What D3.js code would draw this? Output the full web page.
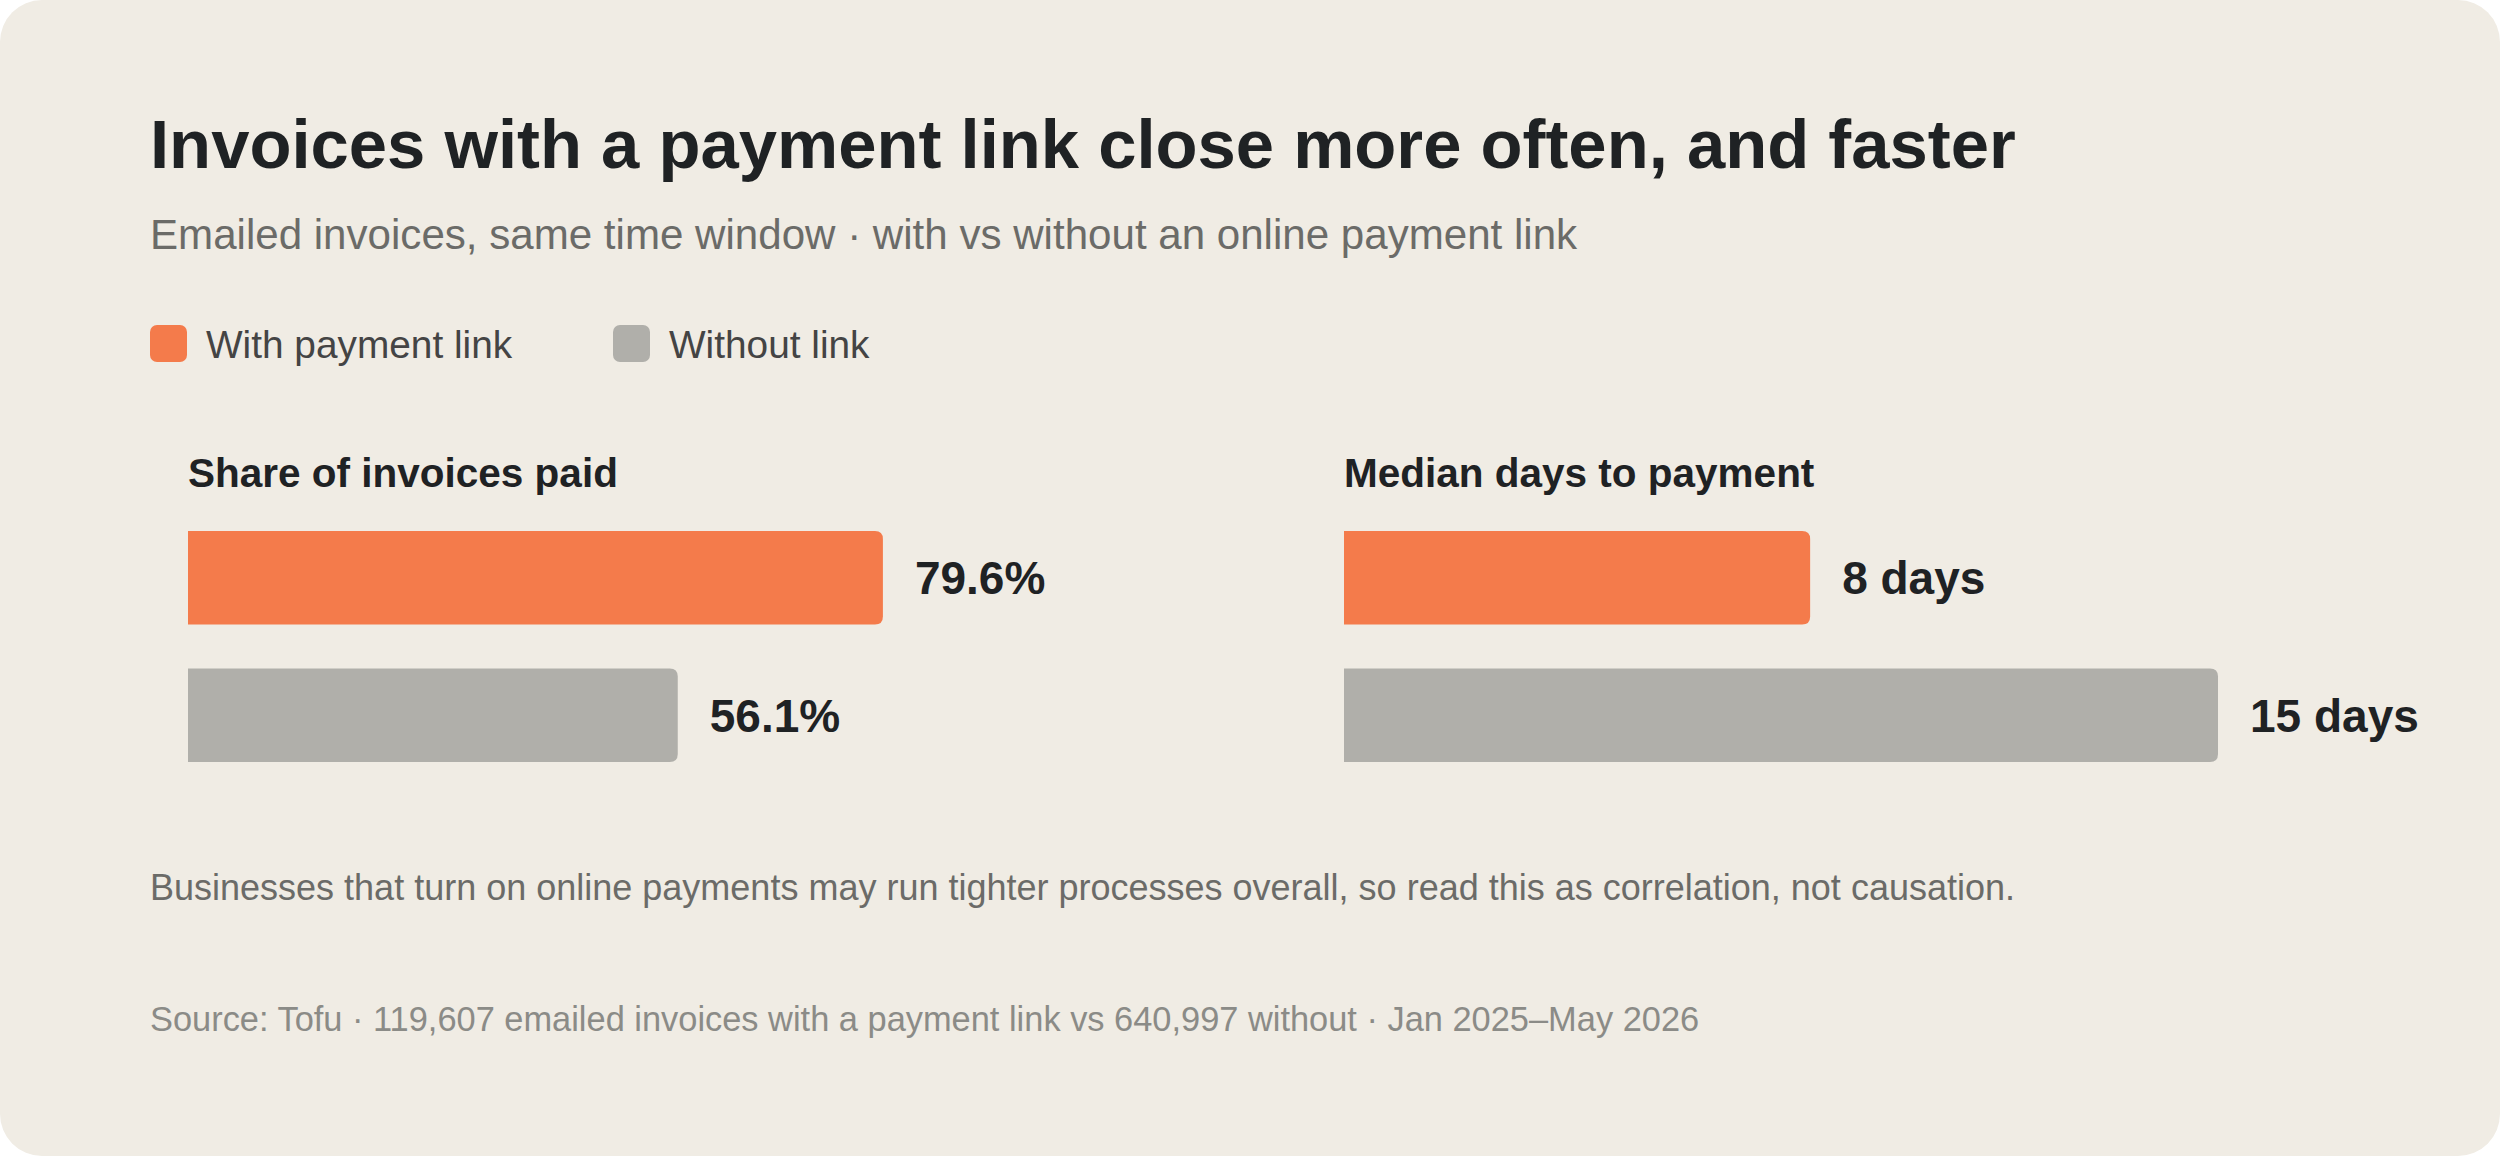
<!DOCTYPE html>
<html>
<head>
<meta charset="utf-8">
<script src="https://cdn.jsdelivr.net/npm/d3@7"></script>
<style>
  html, body { margin: 0; padding: 0; background: #ffffff; }
  svg { display: block; font-family: "Liberation Sans", Arial, Helvetica, sans-serif; }
</style>
</head>
<body>
<svg id="chart" width="2500" height="1156"></svg>
<script>
// ---- Data ----
const seriesNames = ["With payment link", "Without link"];
const seriesColors = ["#f47b4b", "#b0afaa"];
const panelTitles = ["Share of invoices paid", "Median days to payment"];
const shareValues = [79.6, 56.1];      // percent
const daysValues = [8, 15];            // days
const shareLabels = ["79.6%", "56.1%"];
const daysLabels = ["8 days", "15 days"];
const titleText = "Invoices with a payment link close more often, and faster";
const subtitleText = "Emailed invoices, same time window \u00b7 with vs without an online payment link";
const noteText = "Businesses that turn on online payments may run tighter processes overall, so read this as correlation, not causation.";
const sourceText = "Source: Tofu \u00b7 119,607 emailed invoices with a payment link vs 640,997 without \u00b7 Jan 2025\u2013May 2026";

// ---- Layout ----
const W = 2500, H = 1156;
const svg = d3.select("#chart");

svg.append("rect").attr("x", 0).attr("y", 0).attr("width", W).attr("height", H)
  .attr("rx", 42).attr("ry", 42).attr("fill", "#f0ece4");

svg.append("text").attr("x", 150).attr("y", 168)
  .attr("font-size", 68.8).attr("font-weight", 700).attr("fill", "#1f2224")
  .text(titleText);

svg.append("text").attr("x", 150).attr("y", 249)
  .attr("font-size", 42.1).attr("fill", "#6b6b68")
  .text(subtitleText);

// Legend
const legendX = [150, 613];
const legend = svg.append("g");
seriesNames.forEach((name, i) => {
  legend.append("rect").attr("x", legendX[i]).attr("y", 325).attr("width", 37).attr("height", 37)
    .attr("rx", 7).attr("fill", seriesColors[i]);
  legend.append("text").attr("x", legendX[i] + 56).attr("y", 358)
    .attr("font-size", 38.8).attr("fill", "#444444").text(name);
});

// Bars
function rightRoundedBar(x0, x1, y, h, r) {
  const rr = Math.min(r, (x1 - x0), h / 2);
  return `M${x0},${y}H${x1 - rr}Q${x1},${y} ${x1},${y + rr}V${y + h - rr}Q${x1},${y + h} ${x1 - rr},${y + h}H${x0}Z`;
}

const yBand = d3.scaleBand().domain(seriesNames).range([531, 762]).paddingInner(0.32).paddingOuter(0);

const panels = [
  { x0: 188, title: panelTitles[0], values: shareValues, labels: shareLabels, scale: d3.scaleLinear().domain([0, 100]).range([0, 873]) },
  { x0: 1344, title: panelTitles[1], values: daysValues, labels: daysLabels, scale: d3.scaleLinear().domain([0, d3.max(daysValues)]).range([0, 874]) }
];

const labelSize = 46;
panels.forEach(p => {
  const g = svg.append("g").attr("transform", `translate(${p.x0},0)`);
  g.append("text").attr("x", 0).attr("y", 487)
    .attr("font-size", 40.5).attr("font-weight", 700).attr("fill", "#1f2224").text(p.title);
  seriesNames.forEach((name, i) => {
    const y = yBand(name), h = yBand.bandwidth();
    const w = p.scale(p.values[i]);
    g.append("path").attr("d", rightRoundedBar(0, w, y, h, 8)).attr("fill", seriesColors[i]);
    g.append("text").attr("x", w + 32).attr("y", y + h / 2 + labelSize * 0.358)
      .attr("font-size", labelSize).attr("font-weight", 700).attr("fill", "#1f2224").text(p.labels[i]);
  });
});

svg.append("text").attr("x", 150).attr("y", 900)
  .attr("font-size", 36).attr("fill", "#6b6b68").text(noteText);

svg.append("text").attr("x", 150).attr("y", 1031)
  .attr("font-size", 34.4).attr("fill", "#8b8b87").text(sourceText);
</script>
</body>
</html>
